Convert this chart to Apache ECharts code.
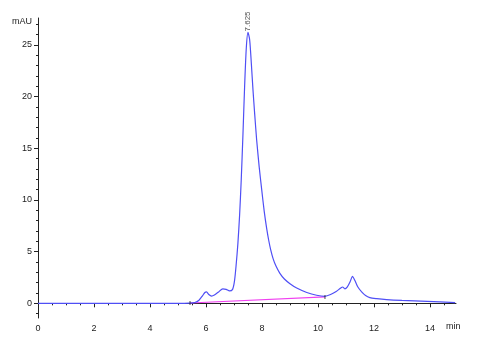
<!DOCTYPE html>
<html>
<head>
<meta charset="utf-8">
<script src="https://cdn.jsdelivr.net/npm/echarts@6/dist/echarts.min.js"></script>
<style>
  html, body { margin: 0; padding: 0; background: #fff; }
  #chart { width: 477px; height: 350px; }
</style>
</head>
<body>
<div id="chart"></div>
<script>
// chromatogram trace (min, mAU)
const times = [0, 1, 2, 3, 4, 5, 5.4, 5.6, 5.75, 5.88, 5.96, 6.02, 6.1, 6.2, 6.3, 6.45, 6.6, 6.72, 6.84, 6.95,
  7.02, 7.08, 7.14, 7.2, 7.26, 7.32, 7.38, 7.44, 7.5, 7.56, 7.62, 7.68, 7.74, 7.81, 7.9, 7.99, 8.08, 8.17, 8.24, 8.31,
  8.4, 8.5, 8.64, 8.8, 9.0, 9.24, 9.6, 9.95, 10.25, 10.45, 10.65, 10.8, 10.88, 10.96, 11.05, 11.15, 11.23,
  11.32, 11.42, 11.56, 11.7, 11.85, 12.1, 12.45, 13.0, 13.9, 14.9];
const values = [0, 0, 0, 0, 0, 0, 0.02, 0.08, 0.3, 0.75, 1.05, 1.1, 0.85, 0.7, 0.8, 1.1, 1.4, 1.35, 1.2, 1.35,
  2.2, 3.8, 5.8, 8.5, 12, 16.3, 21, 24.7, 26.2, 25.5, 23.2, 20.6, 18.3, 15.8, 13.2, 11.0, 8.9, 7.2, 6.1, 5.2,
  4.3, 3.6, 2.9, 2.35, 1.9, 1.48, 1.05, 0.78, 0.68, 0.85, 1.15, 1.45, 1.58, 1.4, 1.6, 2.1, 2.6,
  2.2, 1.6, 1.1, 0.75, 0.55, 0.45, 0.36, 0.28, 0.19, 0.07];

// integration baseline
const baseTimes = [5.43, 10.25];
const baseValues = [0.03, 0.62];

// peak annotation
const peakTime = 7.51;
const peakValue = 26.2;
const peakLabel = '7.625';

// ticks
const xTicks = [0, 2, 4, 6, 8, 10, 12, 14];
const xMinor = [];
for (let t = 0; t <= 14.5; t += 0.5) xMinor.push(t);
const yTicks = [0, 5, 10, 15, 20, 25];
const yMinor = [];
for (let v = -1; v <= 27; v += 1) yMinor.push(v);

const X_MIN = 0, X_MAX = 14.93, Y_MIN = -1.42, Y_MAX = 27.6;

const trace = times.map((t, i) => [t, values[i]]);
const baseline = baseTimes.map((t, i) => [t, baseValues[i]]);

const chart = echarts.init(document.getElementById('chart'));

const textStyle = { color: '#222', fontSize: 9, fontFamily: 'Liberation Sans, Arial, sans-serif' };

chart.setOption({
  animation: false,
  grid: { left: 38, right: 21, top: 18, bottom: 32 },
  graphic: [
    {
      type: 'text', x: 446, y: 322,
      style: { text: 'min', fill: '#222', font: '9px Liberation Sans, Arial, sans-serif' }
    }
  ],
  xAxis: [
    {
      type: 'value', min: X_MIN, max: X_MAX,
      axisLine: { lineStyle: { color: '#222', width: 1 } },
      axisTick: { show: true, length: 4, customValues: xTicks, lineStyle: { color: '#222' } },
      axisLabel: Object.assign({ customValues: xTicks, margin: 6 }, textStyle),
      splitLine: { show: false }
    },
    {
      type: 'value', min: X_MIN, max: X_MAX, position: 'bottom',
      axisLine: { show: false },
      axisTick: { show: true, length: 2, customValues: xMinor, lineStyle: { color: '#222' } },
      axisLabel: { show: false },
      splitLine: { show: false }
    }
  ],
  yAxis: [
    {
      type: 'value', min: Y_MIN, max: Y_MAX,
      axisLine: { show: true, lineStyle: { color: '#222', width: 1 } },
      axisTick: { show: true, length: 4, customValues: yTicks, lineStyle: { color: '#222' } },
      axisLabel: Object.assign({ customValues: yTicks, margin: 6 }, textStyle),
      splitLine: { show: false },
      name: 'mAU', nameLocation: 'end', nameGap: -4,
      nameTextStyle: Object.assign({ align: 'right', verticalAlign: 'middle', padding: [0, 6, 0, 0] }, textStyle)
    },
    {
      type: 'value', min: Y_MIN, max: Y_MAX, position: 'left',
      axisLine: { show: false },
      axisTick: { show: true, length: 2, customValues: yMinor, lineStyle: { color: '#222' } },
      axisLabel: { show: false },
      splitLine: { show: false }
    }
  ],
  series: [
    {
      type: 'line',
      data: baseline,
      symbol: 'none',
      lineStyle: { color: '#f040f0', width: 1.2 },
      z: 2
    },
    {
      type: 'line',
      data: trace,
      smooth: 0.25,
      symbol: 'none',
      lineStyle: { color: '#4f4ff5', width: 1.2 },
      z: 3
    },
    {
      type: 'scatter',
      data: baseline,
      symbol: 'rect',
      symbolSize: [1, 4],
      itemStyle: { color: '#222' },
      z: 4
    },
    {
      type: 'scatter',
      data: [[peakTime, peakValue]],
      symbolSize: 0,
      label: Object.assign({
        show: true,
        formatter: peakLabel,
        position: 'top',
        distance: 1,
        rotate: 90,
        align: 'left',
        verticalAlign: 'middle'
      }, textStyle, { fontSize: 8 }),
      z: 5
    }
  ]
});
</script>
</body>
</html>
